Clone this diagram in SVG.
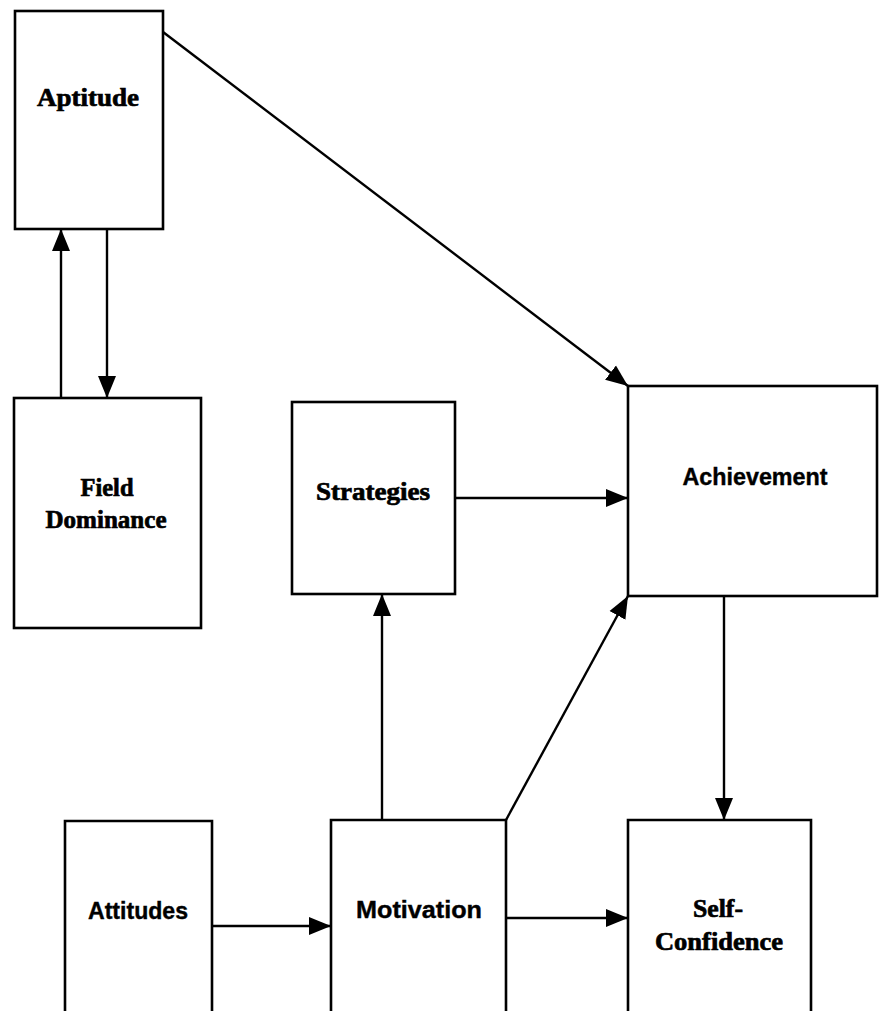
<svg xmlns="http://www.w3.org/2000/svg" width="879" height="1011" viewBox="0 0 879 1011">
  <style>
    .box { fill: #ffffff; stroke: #000000; stroke-width: 2.6; }
    .edge { fill: none; stroke: #000000; stroke-width: 2.4; }
    .lbl { font-family: "Liberation Serif", "Times New Roman", serif; font-weight: bold; font-size: 26px; fill: #000000; stroke: #000000; stroke-width: 0.7; text-anchor: middle; }
    .lbl-sans { font-family: "Liberation Sans", Arial, sans-serif; font-weight: bold; font-size: 24px; fill: #000000; stroke: #000000; stroke-width: 0.4; text-anchor: middle; }
  </style>
  <defs>
    <marker id="arrow" markerUnits="userSpaceOnUse" markerWidth="23" markerHeight="20" refX="22" refY="10" orient="auto">
      <path d="M0,1 L22,10 L0,19 Z" fill="#000000"/>
    </marker>
  </defs>

  <rect width="879" height="1011" fill="#ffffff"/>

  <!-- connectors -->
  <g id="connectors">
    <line class="edge" x1="163" y1="32" x2="628" y2="386" marker-end="url(#arrow)"/>
    <line class="edge" x1="61" y1="405" x2="61" y2="229" marker-end="url(#arrow)"/>
    <line class="edge" x1="107" y1="229" x2="107" y2="398" marker-end="url(#arrow)"/>
    <line class="edge" x1="455" y1="498" x2="628" y2="498" marker-end="url(#arrow)"/>
    <line class="edge" x1="382" y1="820" x2="382" y2="594" marker-end="url(#arrow)"/>
    <line class="edge" x1="506" y1="820" x2="628" y2="596" marker-end="url(#arrow)"/>
    <line class="edge" x1="724" y1="596" x2="724" y2="820" marker-end="url(#arrow)"/>
    <line class="edge" x1="212" y1="926" x2="331" y2="926" marker-end="url(#arrow)"/>
    <line class="edge" x1="506" y1="918" x2="628" y2="918" marker-end="url(#arrow)"/>
  </g>

  <!-- nodes -->
  <g id="aptitude">
    <rect class="box" x="15" y="11" width="148" height="218"/>
    <text class="lbl" x="88" y="106" textLength="102" lengthAdjust="spacingAndGlyphs">Aptitude</text>
  </g>

  <g id="field-dominance">
    <rect class="box" x="14" y="398" width="187" height="230"/>
    <text class="lbl" x="107" y="496" textLength="53" lengthAdjust="spacingAndGlyphs">Field</text>
    <text class="lbl" x="106" y="528" textLength="121" lengthAdjust="spacingAndGlyphs">Dominance</text>
  </g>

  <g id="strategies">
    <rect class="box" x="292" y="402" width="163" height="192"/>
    <text class="lbl" x="373" y="500" textLength="114" lengthAdjust="spacingAndGlyphs">Strategies</text>
  </g>

  <g id="achievement">
    <rect class="box" x="628" y="386" width="249" height="210"/>
    <text class="lbl-sans" x="755" y="485" textLength="145" lengthAdjust="spacingAndGlyphs">Achievement</text>
  </g>

  <g id="attitudes">
    <path class="box" d="M65,1015 L65,821 L212,821 L212,1015"/>
    <text class="lbl-sans" x="138" y="919" textLength="100" lengthAdjust="spacingAndGlyphs">Attitudes</text>
  </g>

  <g id="motivation">
    <path class="box" d="M331,1015 L331,820 L506,820 L506,1015"/>
    <text class="lbl-sans" x="419" y="918" textLength="126" lengthAdjust="spacingAndGlyphs">Motivation</text>
  </g>

  <g id="self-confidence">
    <path class="box" d="M628,1015 L628,820 L811,820 L811,1015"/>
    <text class="lbl" x="718" y="917" textLength="50" lengthAdjust="spacingAndGlyphs">Self-</text>
    <text class="lbl" x="719" y="950" textLength="128" lengthAdjust="spacingAndGlyphs">Confidence</text>
  </g>
</svg>
